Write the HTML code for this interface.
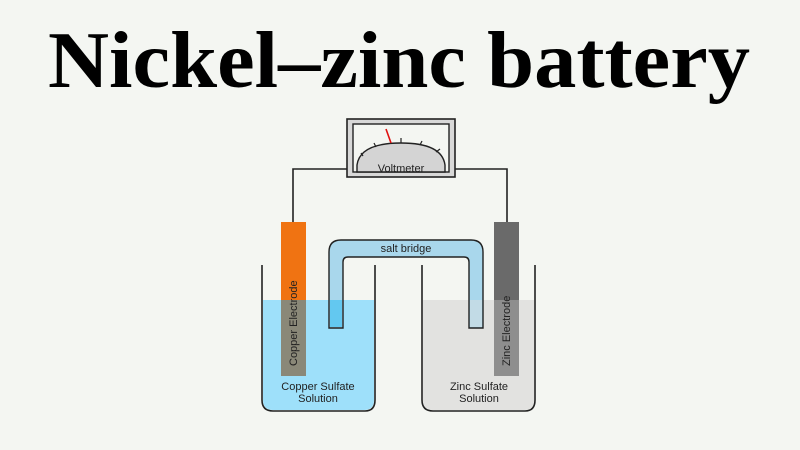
<!DOCTYPE html>
<html><head><meta charset="utf-8"><style>
html,body{margin:0;padding:0;background:#f4f6f2;}
svg{display:block}
</style></head><body>
<svg width="800" height="450" viewBox="0 0 800 450" xmlns="http://www.w3.org/2000/svg">
<rect width="800" height="450" fill="#f4f6f2"/>
<text x="48" y="87" font-family="Liberation Serif, serif" font-weight="bold" font-size="80" textLength="702" lengthAdjust="spacingAndGlyphs" fill="#000">Nickel–zinc battery</text>

<!-- wires -->
<polyline points="293,222 293,169 347,169" fill="none" stroke="#222" stroke-width="1.6"/>
<polyline points="455,169 507,169 507,222" fill="none" stroke="#222" stroke-width="1.6"/>

<!-- voltmeter -->
<rect x="347" y="119" width="108" height="58" fill="#d8d8d8" stroke="#222" stroke-width="1.6"/>
<rect x="353" y="124" width="96" height="48" fill="#f4f6f2" stroke="#222" stroke-width="1.4"/>
<path d="M357,172 L357,165 Q360,143 401,143 Q442,143 445,165 L445,172 Z" fill="#d4d4d4" stroke="#222" stroke-width="1.4"/>
<g stroke="#222" stroke-width="1.2">
<line x1="363" y1="156" x2="361" y2="153"/>
<line x1="376" y1="147" x2="374" y2="143"/>
<line x1="401" y1="143" x2="401" y2="138"/>
<line x1="420" y1="145" x2="422" y2="141"/>
<line x1="436" y1="152" x2="440" y2="149"/>
</g>
<line x1="391" y1="143" x2="386" y2="129" stroke="#e01010" stroke-width="1.6"/>
<text x="401" y="172" font-family="Liberation Sans, sans-serif" font-size="11" text-anchor="middle" fill="#222">Voltmeter</text>

<!-- beakers liquid -->
<path d="M263,300 L374,300 L374,400 Q374,410 364,410 L273,410 Q263,410 263,400 Z" fill="#9ee0fa"/>
<path d="M423,300 L534,300 L534,400 Q534,410 524,410 L433,410 Q423,410 423,400 Z" fill="#e2e2e0"/>

<!-- salt bridge -->
<path d="M329,328 L329,252 Q329,240 341,240 L471,240 Q483,240 483,252 L483,328 L469,328 L469,262 Q469,257 464,257 L348,257 Q343,257 343,262 L343,328 Z" fill="#a9d7ec" stroke="#222" stroke-width="1.4"/>
<rect x="330" y="300" width="12" height="27" fill="#63c8f0"/>
<rect x="470" y="300" width="12" height="27" fill="#c2dbe6"/>
<text x="406" y="252" font-family="Liberation Sans, sans-serif" font-size="11" text-anchor="middle" fill="#222">salt bridge</text>

<!-- electrodes -->
<rect x="281" y="222" width="25" height="78" fill="#f07312"/>
<rect x="281" y="300" width="25" height="76" fill="#8a8878"/>
<rect x="494" y="222" width="25" height="78" fill="#6a6a6a"/>
<rect x="494" y="300" width="25" height="76" fill="#8e8e8e"/>
<text transform="translate(297,366) rotate(-90)" font-family="Liberation Sans, sans-serif" font-size="11" fill="#222">Copper Electrode</text>
<text transform="translate(510,366) rotate(-90)" font-family="Liberation Sans, sans-serif" font-size="11" fill="#222">Zinc Electrode</text>

<!-- beaker outlines -->
<path d="M262,265 L262,400 Q262,411 273,411 L365,411 Q375,411 375,400 L375,265" fill="none" stroke="#222" stroke-width="1.6"/>
<path d="M422,265 L422,400 Q422,411 433,411 L525,411 Q535,411 535,400 L535,265" fill="none" stroke="#222" stroke-width="1.6"/>

<g font-family="Liberation Sans, sans-serif" font-size="11" fill="#222" text-anchor="middle">
<text x="318" y="390">Copper Sulfate</text>
<text x="318" y="402">Solution</text>
<text x="479" y="390">Zinc Sulfate</text>
<text x="479" y="402">Solution</text>
</g>
</svg>
</body></html>
